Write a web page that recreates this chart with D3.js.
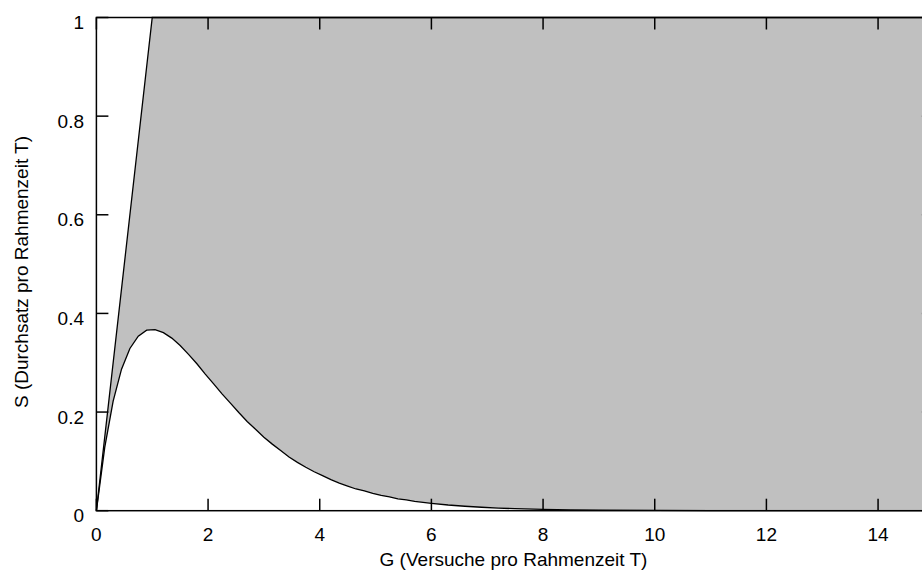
<!DOCTYPE html>
<html><head><meta charset="utf-8">
<script src="https://cdn.jsdelivr.net/npm/d3@7"></script>
<style>html,body{margin:0;padding:0;background:#fff;overflow:hidden}</style>
</head><body>
<svg id="c" width="922" height="572"></svg>
<script>
// Data
const gValues = [0,0.15,0.3,0.45,0.6,0.75,0.9,1.05,1.2,1.35,1.5,1.65,1.8,1.95,2.1,2.25,2.4,2.55,2.7,2.85,3.0,3.15,3.3,3.45,3.6,3.75,3.9,4.05,4.2,4.35,4.5,4.65,4.8,4.95,5.1,5.25,5.4,5.55,5.7,5.85,6.0,6.3,6.6,6.9,7.2,7.5,8,8.5,9,10,11,12,13,14,15];
const sValues = [0,0.129,0.222,0.287,0.329,0.354,0.366,0.367,0.361,0.350,0.335,0.317,0.298,0.277,0.257,0.237,0.218,0.199,0.181,0.165,0.149,0.135,0.122,0.109,0.098,0.088,0.079,0.071,0.063,0.056,0.050,0.044,0.040,0.035,0.031,0.028,0.024,0.022,0.019,0.017,0.015,0.0116,0.0090,0.0070,0.0054,0.0041,0.0027,0.0017,0.0011,0.0005,0.0002,0.0001,0.00003,0.00001,0];
const upperG = [0,1,15];
const upperS = [0,1,1];
const xTicks = [0,2,4,6,8,10,12,14];
const yTicks = [0,0.2,0.4,0.6,0.8,1];
const xLabel = "G (Versuche pro Rahmenzeit T)";
const yLabel = "S (Durchsatz pro Rahmenzeit T)";

const svg = d3.select("#c");
const x = d3.scaleLinear().domain([0,15]).range([96.4,933.9]);
const y = d3.scaleLinear().domain([0,1]).range([510.7,17.5]);
const font = "Liberation Sans, Arial, sans-serif";
const fs = 19;

const lower = gValues.map((g,i)=>[g,sValues[i]]);
const upper = upperG.map((g,i)=>[g,upperS[i]]);
const poly = upper.concat(lower.slice().reverse());
svg.append("path")
  .attr("d", d3.line().x(d=>x(d[0])).y(d=>y(d[1]))(poly) + "Z")
  .attr("fill","#c0c0c0").attr("stroke","none");

const ln = d3.line().x(d=>x(d[0])).y(d=>y(d[1]));
svg.append("path").attr("d", ln(lower)).attr("fill","none").attr("stroke","#000").attr("stroke-width",1.3);
svg.append("path").attr("d", ln(upper)).attr("fill","none").attr("stroke","#000").attr("stroke-width",1.3);

// frame
const g = svg.append("g").attr("stroke","#000").attr("stroke-width",1.5).attr("fill","none");
g.append("rect").attr("x",x(0)).attr("y",y(1)).attr("width",x(15)-x(0)).attr("height",y(0)-y(1));

// ticks (inward, all sides)
const tl = 12;
xTicks.forEach(t=>{
  g.append("line").attr("x1",x(t)).attr("x2",x(t)).attr("y1",y(0)).attr("y2",y(0)-tl);
  g.append("line").attr("x1",x(t)).attr("x2",x(t)).attr("y1",y(1)).attr("y2",y(1)+tl);
});
yTicks.forEach(t=>{
  g.append("line").attr("x1",x(0)).attr("x2",x(0)+tl).attr("y1",y(t)).attr("y2",y(t));
  g.append("line").attr("x1",x(15)).attr("x2",x(15)-tl).attr("y1",y(t)).attr("y2",y(t));
});

// tick labels
svg.selectAll(".xt").data(xTicks).join("text")
  .attr("x",d=>x(d)).attr("y",y(0)+30).attr("text-anchor","middle")
  .attr("font-family",font).attr("font-size",fs).text(d=>d3.format("")(d));
svg.selectAll(".yt").data(yTicks).join("text")
  .attr("x",84).attr("y",d=>y(d)+11.5).attr("text-anchor","end")
  .attr("font-family",font).attr("font-size",fs).text(d=>d3.format("")(d));

svg.append("text").attr("x",513.5).attr("y",566).attr("text-anchor","middle")
  .attr("font-family",font).attr("font-size",fs).text(xLabel);
svg.append("text").attr("transform","translate(28,272) rotate(-90)").attr("text-anchor","middle")
  .attr("font-family",font).attr("font-size",fs).text(yLabel);
</script>
</body></html>
